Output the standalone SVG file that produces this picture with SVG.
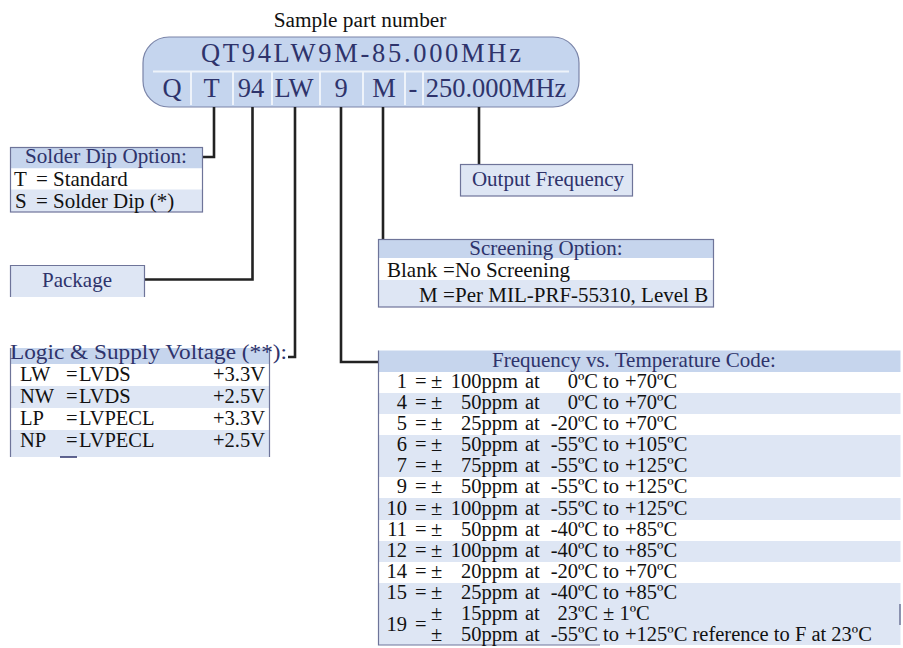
<svg xmlns="http://www.w3.org/2000/svg" width="903" height="648" viewBox="0 0 903 648" font-family="'Liberation Serif','Times New Roman',serif">
<style>
text{font-family:"Liberation Serif","Times New Roman",serif;font-size:21px;fill:#111}
.hd{fill:#2e336b}
.mid{text-anchor:middle}
.end{text-anchor:end}
.ft{font-size:20.5px}
.band-h{fill:#c6d5ed}
.band-l{fill:#dee6f4}
.band-w{fill:#ffffff}
.frame{fill:none;stroke:#6e7499;stroke-width:1.2}
.pilltxt{fill:#2e336b;font-size:26.5px}
.sep{stroke:#eef3fa;stroke-width:2}
.conn{fill:none;stroke:#222;stroke-width:2.6}
</style>
<rect width="903" height="648" fill="#fff"/>

<g id="title">
<text x="360" y="27" class="mid" style="font-size:21.3px">Sample part number</text>
</g>

<g id="part-number">
<rect x="143" y="37" width="436" height="70" rx="26" fill="#c5d5ee" stroke="#7a84a8" stroke-width="1.2"/>
<line class="sep" x1="153" y1="71.5" x2="569" y2="71.5"/>
<line class="sep" x1="191" y1="72" x2="191" y2="105"/>
<line class="sep" x1="233" y1="72" x2="233" y2="105"/>
<line class="sep" x1="272" y1="72" x2="272" y2="105"/>
<line class="sep" x1="320" y1="72" x2="320" y2="105"/>
<line class="sep" x1="363" y1="72" x2="363" y2="105"/>
<line class="sep" x1="405" y1="72" x2="405" y2="105"/>
<line class="sep" x1="423" y1="72" x2="423" y2="105"/>
<text x="201" y="62" class="pilltxt" style="letter-spacing:2.7px">QT94LW9M-85.000MHz</text>
<text x="172" y="97" class="pilltxt mid">Q</text>
<text x="211.5" y="97" class="pilltxt mid">T</text>
<text x="251" y="97" class="pilltxt mid">94</text>
<text x="294" y="97" class="pilltxt mid">LW</text>
<text x="341" y="97" class="pilltxt mid">9</text>
<text x="384" y="97" class="pilltxt mid">M</text>
<text x="413" y="97" class="pilltxt mid">-</text>
<text x="496" y="97" class="pilltxt mid">250.000MHz</text>
</g>

<g id="connectors">
<path class="conn" d="M214,107 V157 H202"/>
<path class="conn" d="M252.5,107 V279.5 H144"/>
<path class="conn" d="M295,107 V357 H288"/>
<path class="conn" d="M341,107 V362 H378"/>
<path class="conn" d="M383,107 V239"/>
<path class="conn" d="M479,107 V164"/>
</g>

<g id="solder-dip">
<rect class="band-h" x="10.5" y="147.5" width="192" height="21"/>
<rect class="band-w" x="10.5" y="168.5" width="192" height="21"/>
<rect class="band-l" x="10.5" y="189.5" width="192" height="22.5"/>
<rect class="frame" x="10.5" y="147.5" width="192" height="64.5"/>
<text x="106" y="163" class="hd mid" textLength="162" lengthAdjust="spacingAndGlyphs" style="font-size:20.5px">Solder Dip Option:</text>
<text x="14" y="185.5">T</text><text x="36" y="185.5">=</text><text x="53" y="185.5">Standard</text>
<text x="15" y="207.5">S</text><text x="36" y="207.5">=</text><text x="53" y="207.5">Solder Dip (*)</text>
</g>

<g id="package">
<rect class="band-l" x="10.5" y="265.5" width="134" height="31.5"/>
<path class="frame" d="M10.5,297 V265.5 H144.5 V297"/>
<text x="77" y="287" class="hd mid">Package</text>
</g>

<g id="logic-voltage">
<rect class="band-h" x="10.5" y="348" width="259" height="16"/>
<rect class="band-w" x="10.5" y="364" width="259" height="22"/>
<rect class="band-l" x="10.5" y="386" width="259" height="22"/>
<rect class="band-w" x="10.5" y="408" width="259" height="22"/>
<rect class="band-l" x="10.5" y="430" width="259" height="27"/>
<path class="frame" d="M10.5,457 V348 M269.5,348 V457"/>
<line x1="60" y1="457" x2="77" y2="457" stroke="#2e336b" stroke-width="1.5"/>
<text x="10" y="359" class="hd" textLength="277" lengthAdjust="spacingAndGlyphs" style="font-size:20.5px">Logic &amp; Supply Voltage (**):</text>
<g style="font-size:20.5px">
<text x="20" y="381" style="font-size:20.5px">LW</text><text x="66" y="381" style="font-size:20.5px">=</text><text x="79" y="381" style="font-size:20.5px">LVDS</text><text x="265" y="381" class="end" style="font-size:20.5px">+3.3V</text>
<text x="20" y="403" style="font-size:20.5px">NW</text><text x="66" y="403" style="font-size:20.5px">=</text><text x="79" y="403" style="font-size:20.5px">LVDS</text><text x="265" y="403" class="end" style="font-size:20.5px">+2.5V</text>
<text x="20" y="425" style="font-size:20.5px">LP</text><text x="66" y="425" style="font-size:20.5px">=</text><text x="79" y="425" style="font-size:20.5px">LVPECL</text><text x="265" y="425" class="end" style="font-size:20.5px">+3.3V</text>
<text x="20" y="447" style="font-size:20.5px">NP</text><text x="66" y="447" style="font-size:20.5px">=</text><text x="79" y="447" style="font-size:20.5px">LVPECL</text><text x="265" y="447" class="end" style="font-size:20.5px">+2.5V</text>
</g>
</g>

<g id="output-frequency">
<rect class="band-l" x="460.5" y="164.5" width="172" height="31.5"/>
<rect class="frame" x="460.5" y="164.5" width="172" height="31.5"/>
<text x="548" y="186" class="hd mid">Output Frequency</text>
</g>

<g id="screening">
<rect class="band-h" x="378.5" y="239.5" width="335" height="18.5"/>
<rect class="band-w" x="378.5" y="258" width="335" height="22"/>
<rect class="band-l" x="378.5" y="280" width="335" height="27"/>
<rect class="frame" x="378.5" y="239.5" width="335" height="67.5"/>
<text x="546" y="255" class="hd mid">Screening Option:</text>
<text x="387" y="277">Blank</text><text x="443" y="277">=</text><text x="455" y="277">No Screening</text>
<text x="419" y="302">M</text><text x="443" y="302">=</text><text x="455" y="302">Per MIL-PRF-55310, Level B</text>
</g>

<g id="freq-temp">
<rect class="band-h" x="378.5" y="350.5" width="522" height="21.5"/>
<rect class="band-l" x="378.5" y="393" width="522" height="21"/>
<rect class="band-l" x="378.5" y="435" width="522" height="42"/>
<rect class="band-l" x="378.5" y="498" width="522" height="22"/>
<rect class="band-l" x="378.5" y="541" width="522" height="21"/>
<rect class="band-l" x="378.5" y="583" width="522" height="62"/>
<path class="frame" d="M378.5,350.5 V645 H600"/>
<line x1="900" y1="604" x2="900" y2="625" stroke="#6e7499" stroke-width="1.5"/>
<text x="634" y="367" class="hd mid">Frequency vs. Temperature Code:</text>
<text x="407" y="388" class="ft end">1</text><text x="415" y="388" class="ft">=</text><text x="431" y="388" class="ft">±</text><text x="518" y="388" class="ft end">100ppm</text><text x="525" y="388" class="ft">at</text><text x="598" y="388" class="ft end">0ºC</text><text x="603" y="388" class="ft">to</text><text x="625" y="388" class="ft">+70ºC</text>
<text x="407" y="409" class="ft end">4</text><text x="415" y="409" class="ft">=</text><text x="431" y="409" class="ft">±</text><text x="518" y="409" class="ft end">50ppm</text><text x="525" y="409" class="ft">at</text><text x="598" y="409" class="ft end">0ºC</text><text x="603" y="409" class="ft">to</text><text x="625" y="409" class="ft">+70ºC</text>
<text x="407" y="430" class="ft end">5</text><text x="415" y="430" class="ft">=</text><text x="431" y="430" class="ft">±</text><text x="518" y="430" class="ft end">25ppm</text><text x="525" y="430" class="ft">at</text><text x="598" y="430" class="ft end">-20ºC</text><text x="603" y="430" class="ft">to</text><text x="625" y="430" class="ft">+70ºC</text>
<text x="407" y="451" class="ft end">6</text><text x="415" y="451" class="ft">=</text><text x="431" y="451" class="ft">±</text><text x="518" y="451" class="ft end">50ppm</text><text x="525" y="451" class="ft">at</text><text x="598" y="451" class="ft end">-55ºC</text><text x="603" y="451" class="ft">to</text><text x="625" y="451" class="ft">+105ºC</text>
<text x="407" y="472" class="ft end">7</text><text x="415" y="472" class="ft">=</text><text x="431" y="472" class="ft">±</text><text x="518" y="472" class="ft end">75ppm</text><text x="525" y="472" class="ft">at</text><text x="598" y="472" class="ft end">-55ºC</text><text x="603" y="472" class="ft">to</text><text x="625" y="472" class="ft">+125ºC</text>
<text x="407" y="493" class="ft end">9</text><text x="415" y="493" class="ft">=</text><text x="431" y="493" class="ft">±</text><text x="518" y="493" class="ft end">50ppm</text><text x="525" y="493" class="ft">at</text><text x="598" y="493" class="ft end">-55ºC</text><text x="603" y="493" class="ft">to</text><text x="625" y="493" class="ft">+125ºC</text>
<text x="407" y="515" class="ft end">10</text><text x="415" y="515" class="ft">=</text><text x="431" y="515" class="ft">±</text><text x="518" y="515" class="ft end">100ppm</text><text x="525" y="515" class="ft">at</text><text x="598" y="515" class="ft end">-55ºC</text><text x="603" y="515" class="ft">to</text><text x="625" y="515" class="ft">+125ºC</text>
<text x="407" y="536" class="ft end">11</text><text x="415" y="536" class="ft">=</text><text x="431" y="536" class="ft">±</text><text x="518" y="536" class="ft end">50ppm</text><text x="525" y="536" class="ft">at</text><text x="598" y="536" class="ft end">-40ºC</text><text x="603" y="536" class="ft">to</text><text x="625" y="536" class="ft">+85ºC</text>
<text x="407" y="557" class="ft end">12</text><text x="415" y="557" class="ft">=</text><text x="431" y="557" class="ft">±</text><text x="518" y="557" class="ft end">100ppm</text><text x="525" y="557" class="ft">at</text><text x="598" y="557" class="ft end">-40ºC</text><text x="603" y="557" class="ft">to</text><text x="625" y="557" class="ft">+85ºC</text>
<text x="407" y="578" class="ft end">14</text><text x="415" y="578" class="ft">=</text><text x="431" y="578" class="ft">±</text><text x="518" y="578" class="ft end">20ppm</text><text x="525" y="578" class="ft">at</text><text x="598" y="578" class="ft end">-20ºC</text><text x="603" y="578" class="ft">to</text><text x="625" y="578" class="ft">+70ºC</text>
<text x="407" y="599" class="ft end">15</text><text x="415" y="599" class="ft">=</text><text x="431" y="599" class="ft">±</text><text x="518" y="599" class="ft end">25ppm</text><text x="525" y="599" class="ft">at</text><text x="598" y="599" class="ft end">-40ºC</text><text x="603" y="599" class="ft">to</text><text x="625" y="599" class="ft">+85ºC</text>
<text x="407" y="631" class="ft end">19</text><text x="415" y="631" class="ft">=</text>
<text x="431" y="620" class="ft">±</text><text x="518" y="620" class="ft end">15ppm</text><text x="525" y="620" class="ft">at</text><text x="598" y="620" class="ft end">23ºC</text><text x="603" y="620" class="ft">± 1ºC</text>
<text x="431" y="641" class="ft">±</text><text x="518" y="641" class="ft end">50ppm</text><text x="525" y="641" class="ft">at</text><text x="598" y="641" class="ft end">-55ºC</text><text x="603" y="641" class="ft">to</text><text x="625" y="641" class="ft">+125ºC reference to F at 23ºC</text>
</g>
</svg>
